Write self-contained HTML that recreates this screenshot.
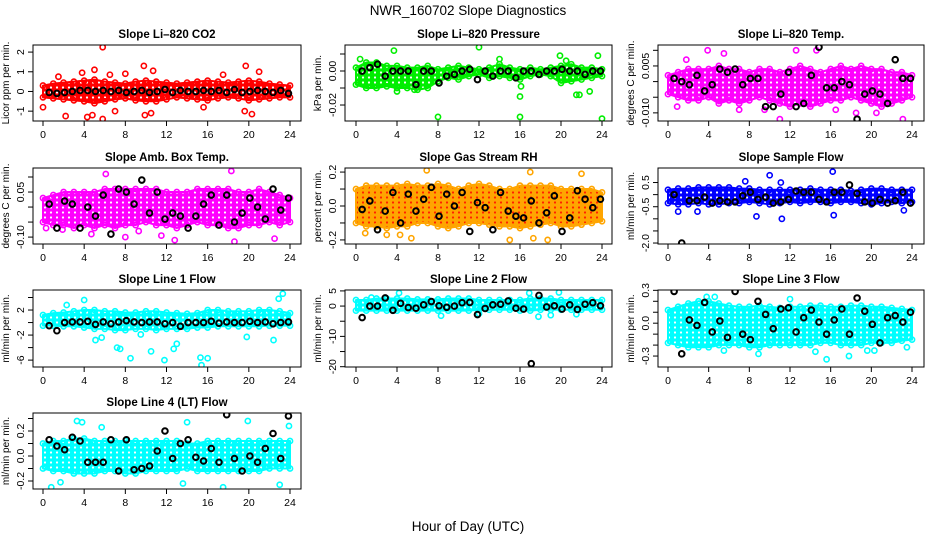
<!DOCTYPE html>
<html><head><meta charset="utf-8"><style>
html,body{margin:0;padding:0;background:#fff;}
svg{display:block;font-family:"Liberation Sans",sans-serif;}
</style></head><body>
<svg id="chart" width="936" height="540" viewBox="0 0 936 540" xmlns="http://www.w3.org/2000/svg">
<rect width="936" height="540" fill="#fff"/>
<text x="468" y="15" text-anchor="middle" font-size="13.5">NWR_160702  Slope Diagnostics</text>
<text x="468" y="531" text-anchor="middle" font-size="13.5">Hour of Day (UTC)</text>
</svg>
<script>
const hours = [0,1,2,3,4,5,6,7,8,9,10,11,12,13,14,15,16,17,18,19,20,21,22,23,24];
const blackHours = [0.6,1.35,2.1,2.85,3.6,4.35,5.1,5.85,6.6,7.35,8.1,8.85,9.6,10.35,11.1,11.85,12.6,13.35,14.1,14.85,15.6,16.35,17.1,17.85,18.6,19.35,20.1,20.85,21.6,22.35,23.1,23.85];
const xTicks = [0,4,8,12,16,20,24];

const co2Lo = [-0.3,-0.35,-0.4,-0.45,-0.5,-0.6,-0.5,-0.4,-0.35,-0.45,-0.5,-0.5,-0.4,-0.3,-0.35,-0.4,-0.45,-0.35,-0.3,-0.35,-0.45,-0.4,-0.35,-0.3,-0.3];
const co2Hi = [0.3,0.4,0.45,0.5,0.55,0.6,0.5,0.45,0.4,0.5,0.55,0.5,0.45,0.4,0.45,0.5,0.55,0.5,0.45,0.5,0.55,0.5,0.4,0.35,0.3];
const co2OutX = [0,5.8,2.2,4.3,5.8,3.8,5,9.8,10.7,9.9,10.5,19.7,20.3,21,19.6,17.5,8,1.5,6.5,15.6,4.8,7];
const co2OutY = [-0.8,2.25,-1.25,-1.3,-1.4,0.95,1.1,1.3,1.05,-1.2,-1.1,1.3,-1.15,1.0,-1.0,0.85,0.9,0.75,0.85,-0.8,-1.2,-1.0];
const co2Blk = [-0.05,-0.1,-0.05,0,0.05,0.05,0,0.05,0,0.05,-0.05,0,0.05,-0.05,0,0.1,-0.05,0.05,0,0,0.05,0,0.05,-0.05,0.1,-0.05,0,0.05,0,-0.05,0.05,-0.1];
const co2Ticks = [-1,0,1,2];
const co2Labels = ["-1","0","1","2"];

const presLo = [-0.008,-0.01,-0.01,-0.009,-0.01,-0.01,-0.011,-0.01,-0.006,-0.004,-0.005,-0.003,-0.002,-0.004,-0.003,-0.004,-0.005,-0.003,-0.002,-0.003,-0.007,-0.006,-0.005,-0.004,-0.003];
const presHi = [0.002,0.005,0.005,0.003,0.003,0.002,0.002,0.003,0.001,0.002,0.003,0.002,0.001,0.002,0.004,0.002,0.001,0.002,0.001,0.002,0.003,0.004,0.002,0.002,0.001];
const presOutX = [3.7,12,19.9,23.6,8,16,24,16,16.1,4,5.7,21.5,21.8,22.8,0.4,14,20.5];
const presOutY = [0.012,0.014,0.009,0.009,-0.027,-0.027,-0.028,-0.015,-0.009,-0.012,-0.011,-0.014,-0.014,-0.012,0.007,0.007,0.006];
const presBlk = [0,0.002,0.004,-0.003,0,0,0,-0.008,0,0,-0.007,-0.003,-0.002,0,0.001,-0.005,0,-0.003,0,0,-0.004,0,0,-0.002,0,0,0.001,0,0,-0.002,0,0];
const presTicks = [-0.02,-0.01,0,0.01];
const presLabels = ["-0.02","","0.00",""];

const tempLo = [-0.004,-0.005,-0.006,-0.006,-0.005,-0.007,-0.006,-0.007,-0.006,-0.005,-0.006,-0.007,-0.008,-0.007,-0.008,-0.007,-0.006,-0.006,-0.005,-0.006,-0.007,-0.008,-0.007,-0.006,-0.005];
const tempHi = [0.002,0.003,0.004,0.004,0.004,0.005,0.004,0.004,0.003,0.004,0.004,0.003,0.004,0.005,0.004,0.003,0.004,0.005,0.004,0.005,0.004,0.004,0.003,0.003,0.002];
const tempOutX = [3.9,5.5,1.8,12.6,11,23.1,18.5,20.5,0.9,7,14.6,16.5,9.5];
const tempOutY = [0.010,0.009,0.007,0.010,-0.012,-0.012,-0.010,-0.010,-0.008,-0.009,0.010,-0.009,-0.009];
const tempBlk = [0.001,0,-0.001,0.002,-0.003,-0.001,0.004,0.003,0.004,-0.001,0.001,0.001,-0.008,-0.008,-0.004,0.003,-0.008,-0.007,0.002,0.011,-0.002,-0.002,0,-0.001,-0.012,-0.004,-0.003,-0.004,-0.007,0.007,0.001,0.001];
const tempTicks = [-0.010,-0.005,0,0.005,0.010];
const tempLabels = ["-0.010","","","0.005",""];

const ambLo = [-0.05,-0.06,-0.06,-0.07,-0.06,-0.07,-0.06,-0.07,-0.06,-0.06,-0.05,-0.06,-0.06,-0.07,-0.06,-0.05,-0.06,-0.06,-0.07,-0.07,-0.06,-0.06,-0.05,-0.06,-0.05];
const ambHi = [0.03,0.04,0.05,0.05,0.05,0.05,0.06,0.06,0.06,0.06,0.06,0.06,0.05,0.05,0.05,0.06,0.06,0.06,0.06,0.05,0.05,0.06,0.05,0.04,0.03];
const ambOutX = [6.1,18.3,0.3,1.9,8,12.8,18.6,22.5,11.5,9.3,4.7];
const ambOutY = [0.11,0.12,-0.07,-0.075,-0.1,-0.11,-0.115,-0.105,-0.095,-0.08,-0.09];
const ambBlk = [0.01,-0.07,0.02,0.01,-0.07,0,-0.03,0.04,-0.09,0.06,0.05,0.01,0.09,-0.02,0.05,-0.04,-0.02,-0.03,-0.07,-0.03,0.01,0.04,-0.06,0.04,-0.05,-0.02,0.03,0,-0.04,0.06,-0.01,0.03];
const ambTicks = [-0.10,-0.05,0,0.05,0.10];
const ambLabels = ["-0.10","","","0.05",""];

const rhLo = [-0.1,-0.12,-0.12,-0.13,-0.12,-0.12,-0.1,-0.1,-0.12,-0.13,-0.12,-0.1,-0.1,-0.11,-0.12,-0.12,-0.13,-0.12,-0.11,-0.1,-0.12,-0.12,-0.11,-0.1,-0.09];
const rhHi = [0.1,0.12,0.12,0.12,0.12,0.13,0.12,0.12,0.13,0.12,0.1,0.12,0.13,0.12,0.1,0.1,0.12,0.12,0.12,0.12,0.1,0.1,0.1,0.1,0.08];
const rhOutX = [6.9,17,22,3,0.9,15,18.7,17.3,5.4,4.3];
const rhOutY = [0.21,0.2,0.19,-0.17,-0.16,-0.2,-0.2,-0.19,-0.19,-0.17];
const rhBlk = [-0.02,0.03,-0.14,-0.03,0.08,-0.1,0.07,-0.03,0.04,0.11,-0.06,0.07,0,0.08,-0.15,0.02,-0.01,-0.14,0.08,-0.03,-0.06,-0.07,0.03,-0.1,-0.04,0.06,-0.15,-0.07,0.09,0.04,-0.01,0.04];
const rhTicks = [-0.2,-0.1,0,0.1,0.2];
const rhLabels = ["-0.2","","0.0","","0.2"];

const flowLo = [-0.35,-0.4,-0.4,-0.35,-0.4,-0.4,-0.35,-0.35,-0.3,-0.35,-0.4,-0.35,-0.3,-0.35,-0.3,-0.3,-0.35,-0.3,-0.3,-0.35,-0.4,-0.35,-0.3,-0.35,-0.3];
const flowHi = [0.2,0.25,0.25,0.3,0.3,0.3,0.3,0.25,0.25,0.2,0.2,0.2,0.2,0.2,0.25,0.2,0.2,0.2,0.15,0.2,0.25,0.25,0.2,0.2,0.2];
const flowOutX = [10,16.2,7.6,11.1,11.2,8.7,1,16.3,2.9,23.2];
const flowOutY = [0.8,0.95,0.55,0.5,-1.0,-0.9,-0.7,-0.85,-0.7,-0.65];
const flowBlk = [0,-2.0,-0.25,-0.25,-0.1,-0.35,-0.25,-0.3,-0.3,-0.05,0.1,-0.2,-0.1,-0.35,-0.3,-0.2,0.15,0.1,0.1,-0.2,-0.3,0.1,0.1,0.4,0.05,-0.3,-0.35,-0.2,-0.35,-0.25,0.1,-0.35];
const flowTicks = [-2,-1.5,-1,-0.5,0,0.5];
const flowLabels = ["-2.0","","","-0.5","","0.5"];

const l1Lo = [-0.5,-0.5,-0.6,-0.6,-0.8,-1,-1,-1.2,-1.2,-1,-1,-1.2,-1,-1,-1,-0.8,-0.8,-0.6,-0.6,-0.6,-0.6,-0.6,-0.5,-0.5,-0.5];
const l1Hi = [1.2,1.5,1.6,1.8,2,2,1.8,1.8,1.6,1.6,1.8,1.8,1.6,1.5,1.4,1.5,2,2,1.8,1.8,1.8,2,2,1.8,1.5];
const l1OutX = [4,5.1,7.2,7.5,8.5,10.5,11.8,15.4,15.3,16,13,12.7,5.7,9.5,22.4,23.3,22.9,19.8,2.3];
const l1OutY = [3.6,-2.8,-4,-4.2,-5.7,-4.6,-6,-6.8,-5.6,-5.7,-3.4,-4.2,-2.4,-1.9,-2.8,4.6,3.8,-2.3,2.8];
const l1Blk = [-0.5,-1.3,0,0.1,0.1,0.2,-0.3,0.1,-0.2,0.1,0.3,0.1,0,0.1,0.1,-0.2,0,-0.6,0,0,0,0.2,-0.1,0.1,0,0,0.2,0,0.1,-0.2,0,0.1];
const l1Ticks = [-6,-4,-2,0,2,4];
const l1Labels = ["-6","","-2","","2",""];

const l2Lo = [-1.5,-1.5,-1.5,-1.5,-1.5,-1.5,-1.5,-1.5,-1.5,-1.5,-1.5,-1.5,-1.2,-1.2,-1.2,-1.2,-1.5,-1.5,-1.2,-1.2,-1.2,-1.2,-1.2,-1.2,-1.2];
const l2Hi = [2,2,2.5,2.5,2.5,2.5,2.2,2.2,2.2,2.5,2.5,2.5,2,2,2,2,2,2.5,2.5,2.5,2,2,2,2,2];
const l2OutX = [4.2,16.9,19.8,17.8,8.3,12,1.5,19,21.5];
const l2OutY = [4.3,4.3,4.5,-3.5,-3.2,-2.5,2.8,-3,-2.7];
const l2Blk = [-3.8,0,0,2.7,-1.4,0.9,-0.5,-0.7,0.4,1.5,0.1,-0.4,0,1.1,1.2,-2.8,-0.8,0.4,0.6,1.7,-0.7,-1,-19,3.5,-0.3,0.1,-1,0.4,-1.1,0.6,1.1,0.1];
const l2Ticks = [-20,-15,-10,-5,0,5];
const l2Labels = ["-20","","-10","","0","5"];

const l3Lo = [-0.18,-0.2,-0.22,-0.22,-0.22,-0.2,-0.2,-0.2,-0.22,-0.22,-0.2,-0.2,-0.2,-0.2,-0.2,-0.18,-0.18,-0.2,-0.2,-0.2,-0.18,-0.18,-0.18,-0.16,-0.15];
const l3Hi = [0.12,0.15,0.18,0.2,0.2,0.18,0.16,0.15,0.15,0.16,0.15,0.14,0.15,0.15,0.16,0.16,0.15,0.15,0.16,0.16,0.15,0.15,0.14,0.13,0.12];
const l3OutX = [3.8,4.6,5.5,14.5,15.6,17.8,19.6,20.3,23.5,8.9,12];
const l3OutY = [0.24,0.24,-0.25,-0.26,-0.33,-0.3,-0.25,-0.25,-0.22,-0.28,0.22];
const l3Blk = [0.29,-0.28,0.03,-0.02,0.19,-0.08,0.02,-0.13,0.29,-0.1,-0.15,0.2,0.08,-0.05,0.13,0.14,-0.08,0.05,0.12,0.01,-0.1,0.03,0.13,-0.1,0.23,0.11,-0.01,-0.18,0.05,0.07,0.01,0.1];
const l3Ticks = [-0.3,-0.2,-0.1,0,0.1,0.2,0.3];
const l3Labels = ["-0.3","","","0.0","","","0.3"];

const l4Lo = [-0.1,-0.12,-0.12,-0.14,-0.14,-0.14,-0.12,-0.12,-0.14,-0.14,-0.12,-0.12,-0.12,-0.12,-0.1,-0.12,-0.12,-0.12,-0.12,-0.12,-0.12,-0.12,-0.1,-0.1,-0.1];
const l4Hi = [0.1,0.12,0.12,0.14,0.14,0.12,0.12,0.12,0.12,0.12,0.12,0.12,0.12,0.12,0.1,0.1,0.12,0.12,0.12,0.12,0.12,0.12,0.12,0.12,0.12];
const l4OutX = [3.3,3.8,5.7,14,19.9,23.9,0.8,1.7,13.6,17.5,23];
const l4OutY = [0.28,0.27,0.23,0.27,0.28,0.24,-0.25,-0.21,-0.22,-0.25,-0.23];
const l4Blk = [0.13,0.08,0.05,0.15,0.12,-0.05,-0.05,-0.05,0.13,-0.12,0.13,-0.11,-0.1,-0.08,0.04,0.2,-0.02,0.1,0.13,-0.01,-0.04,0.06,-0.05,0.33,-0.02,-0.12,0.0,-0.05,0.06,0.18,-0.02,0.32];
const l4Ticks = [-0.2,-0.1,0,0.1,0.2,0.3];
const l4Labels = ["-0.2","","0.0","","0.2",""];

const panels = [
 {name:"li820-co2",title:"Slope Li\u2013820 CO2",ylab:"Licor ppm per min.",col:0,row:0,dom:[-1.5,2.36],color:"#ff0000",lo:co2Lo,hi:co2Hi,ox:co2OutX,oy:co2OutY,blk:co2Blk,ticks:co2Ticks,labels:co2Labels},
 {name:"li820-pressure",title:"Slope Li\u2013820 Pressure",ylab:"kPa per min.",col:1,row:0,dom:[-0.0294,0.0153],color:"#00ee00",lo:presLo,hi:presHi,ox:presOutX,oy:presOutY,blk:presBlk,ticks:presTicks,labels:presLabels},
 {name:"li820-temp",title:"Slope Li\u2013820 Temp.",ylab:"degrees C per min.",col:2,row:0,dom:[-0.0126,0.0117],color:"#ff00ff",lo:tempLo,hi:tempHi,ox:tempOutX,oy:tempOutY,blk:tempBlk,ticks:tempTicks,labels:tempLabels},
 {name:"amb-box-temp",title:"Slope Amb. Box Temp.",ylab:"degrees C per min.",col:0,row:1,dom:[-0.123,0.13],color:"#ff00ff",lo:ambLo,hi:ambHi,ox:ambOutX,oy:ambOutY,blk:ambBlk,ticks:ambTicks,labels:ambLabels},
 {name:"gas-stream-rh",title:"Slope Gas Stream RH",ylab:"percent per min.",col:1,row:1,dom:[-0.224,0.224],color:"#ffa500",inner:"#ff2000",lo:rhLo,hi:rhHi,ox:rhOutX,oy:rhOutY,blk:rhBlk,ticks:rhTicks,labels:rhLabels},
 {name:"sample-flow",title:"Slope Sample Flow",ylab:"ml/min per min.",col:2,row:1,dom:[-2.04,1.1],color:"#0000ff",lo:flowLo,hi:flowHi,ox:flowOutX,oy:flowOutY,blk:flowBlk,ticks:flowTicks,labels:flowLabels},
 {name:"line1-flow",title:"Slope Line 1 Flow",ylab:"ml/min per min.",col:0,row:2,dom:[-7.1,5.2],color:"#00ffff",lo:l1Lo,hi:l1Hi,ox:l1OutX,oy:l1OutY,blk:l1Blk,ticks:l1Ticks,labels:l1Labels},
 {name:"line2-flow",title:"Slope Line 2 Flow",ylab:"ml/min per min.",col:1,row:2,dom:[-20.1,5.3],color:"#00ffff",lo:l2Lo,hi:l2Hi,ox:l2OutX,oy:l2OutY,blk:l2Blk,ticks:l2Ticks,labels:l2Labels},
 {name:"line3-flow",title:"Slope Line 3 Flow",ylab:"ml/min per min.",col:2,row:2,dom:[-0.4,0.303],color:"#00ffff",lo:l3Lo,hi:l3Hi,ox:l3OutX,oy:l3OutY,blk:l3Blk,ticks:l3Ticks,labels:l3Labels},
 {name:"line4-lt-flow",title:"Slope Line 4 (LT) Flow",ylab:"ml/min per min.",col:0,row:3,dom:[-0.264,0.344],color:"#00ffff",lo:l4Lo,hi:l4Hi,ox:l4OutX,oy:l4OutY,blk:l4Blk,ticks:l4Ticks,labels:l4Labels}
];

const cols = [{x0:33,x1:301,t0:43,t24:290},{x0:345,x1:612,t0:356,t24:602},{x0:658,x1:924,t0:668,t24:912}];
const rows = [{y0:45,y1:121},{y0:168,y1:244},{y0:290,y1:367},{y0:413,y1:489}];
const NS = "http://www.w3.org/2000/svg";
const svg = document.getElementById("chart");
function mk(tag, attrs, parent){const e=document.createElementNS(NS,tag);for(const k in attrs)e.setAttribute(k,attrs[k]);(parent||svg).appendChild(e);return e;}
const defs = mk("defs",{});

panels.forEach(p=>{
  const c=cols[p.col], r=rows[p.row];
  const xs=h=>c.t0+(h/24)*(c.t24-c.t0);
  const ys=v=>r.y1-(v-p.dom[0])/(p.dom[1]-p.dom[0])*(r.y1-r.y0);
  const pat=mk("pattern",{id:"pat-"+p.name,width:6,height:5,patternUnits:"userSpaceOnUse"},defs);
  mk("rect",{width:6,height:5,fill:p.color},pat);
  mk("circle",{cx:3,cy:2.5,r:1.1,fill:p.inner||"#fff"},pat);
  const g=mk("g",{});
  
  
  const clip=mk("clipPath",{id:"clip-"+p.name},g);
  mk("rect",{x:c.x0,y:r.y0,width:c.x1-c.x0,height:r.y1-r.y0},clip);
  const title=mk("text",{x:(c.x0+c.x1)/2,y:r.y0-7,"text-anchor":"middle","font-size":"11.5","font-weight":"bold"},g);
  title.textContent=p.title;
  
  
  const yl=mk("text",{x:0,y:0,transform:`translate(${c.x0-24},${(r.y0+r.y1)/2}) rotate(-90)`,"text-anchor":"middle","font-size":"10"},g);
  yl.textContent=p.ylab;
  
  
  const plot=mk("g",{"clip-path":`url(#clip-${p.name})`},g);
  
  
  let pts=hours.map((h,i)=>xs(h)+","+ys(p.hi[i]));
  pts=pts.concat(hours.slice().reverse().map((h,j)=>xs(h)+","+ys(p.lo[hours.length-1-j])));
  const band=mk("polygon",{points:pts.join(" "),fill:`url(#pat-${p.name})`,stroke:p.color,"stroke-width":"2","stroke-linejoin":"round"},plot);
  
  
  hours.forEach((h,i)=>{
    [p.lo[i],p.hi[i]].forEach(v=>{
      const e=mk("circle",{cx:xs(h),cy:ys(v),r:2.6,fill:"none",stroke:p.color,"stroke-width":1.6},plot);
      
      
    });
  });
  p.ox.forEach((h,i)=>{
    const e=mk("circle",{cx:xs(h),cy:ys(p.oy[i]),r:2.6,fill:"none",stroke:p.color,"stroke-width":1.6},plot);
    
    
  });
  blackHours.forEach((h,i)=>{
    const e=mk("circle",{cx:xs(h),cy:ys(p.blk[i]),r:2.8,fill:"none",stroke:"#000","stroke-width":2},plot);
    
    
  });
  const box=mk("rect",{x:c.x0,y:r.y0,width:c.x1-c.x0,height:r.y1-r.y0,fill:"none",stroke:"#000","stroke-width":1},g);
  
  
  xTicks.forEach(t=>{
    const x=xs(t);
    const tk=mk("line",{x1:x,y1:r.y1,x2:x,y2:r.y1+5,stroke:"#000"},g);
    
    
    const tl=mk("text",{x:x,y:r.y1+17,"text-anchor":"middle","font-size":"10.5"},g);
    tl.textContent=t;
    
    
  });
  p.ticks.forEach((t,i)=>{
    const y=ys(t);
    if(y<r.y0-0.5||y>r.y1+0.5) return;
    const tk=mk("line",{x1:c.x0-5,y1:y,x2:c.x0,y2:y,stroke:"#000"},g);
    
    
    if(p.labels[i]){
      const tl=mk("text",{x:0,y:0,transform:`translate(${c.x0-9},${y}) rotate(-90)`,"text-anchor":"middle","font-size":"10.5"},g);
      tl.textContent=p.labels[i];
      
      
    }
  });
});
</script>
</body></html>
